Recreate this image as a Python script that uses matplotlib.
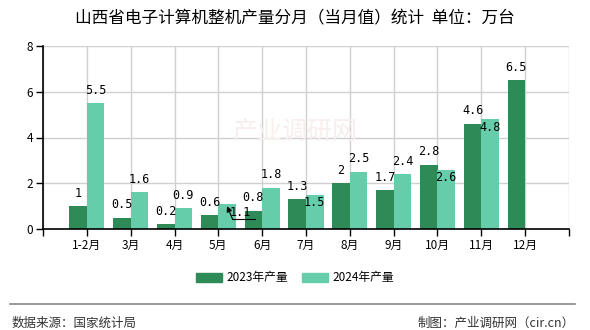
import numpy as np
import matplotlib.pyplot as plt
from matplotlib.patches import Patch

plt.rcParams['font.family'] = ['Noto Sans CJK SC', 'DejaVu Sans']

months = ['1-2月', '3月', '4月', '5月', '6月', '7月', '8月', '9月', '10月', '11月', '12月']
prod_2023 = [1, 0.5, 0.2, 0.6, 0.8, 1.3, 2, 1.7, 2.8, 4.6, 6.5]
prod_2024 = [5.5, 1.6, 0.9, 1.1, 1.8, 1.5, 2.5, 2.4, 2.6, 4.8, None]

# label offsets in pixels (dx, dy) where labels were pushed around to avoid overlap
lab_off_2024 = {3: (13, -9), 5: (0, -8), 8: (0, -8), 9: (0, -8)}

c23 = '#2e8b57'
c24 = '#66cdaa'

fig = plt.figure(figsize=(5.9, 3.3), dpi=100)
ax = fig.add_axes([43/590, 1-229/330, 526/590, 183/330])

x = np.arange(1, len(months)+1)
w = 0.4
ax.bar(x - w/2, prod_2023, width=w, color=c23, zorder=3)
x24 = [xi for xi, v in zip(x, prod_2024) if v is not None]
v24 = [v for v in prod_2024 if v is not None]
ax.bar(np.array(x24) + w/2, v24, width=w, color=c24, zorder=3)

lab_font = dict(family='DejaVu Sans Mono', fontsize=8.5, color='black')
for xi, v in zip(x, prod_2023):
    ax.annotate(f'{v:g}', (xi - w/2, v), xytext=(0, 13), textcoords='offset pixels',
                ha='center', va='center', zorder=5, **lab_font)
for i, (xi, v) in enumerate(zip(x24, v24)):
    dx, dy = lab_off_2024.get(i, (0, 13))
    ax.annotate(f'{v:g}', (xi + w/2, v), xytext=(dx, dy),
                textcoords='offset pixels', ha='center', va='center', zorder=5, **lab_font)
    if i == 3:
        # leader line from the shifted label back to its bar
        bx = xi + w/2
        ax.annotate('', (bx, v - 0.1), xytext=(bx + 0.12, v - 0.65),
                    arrowprops=dict(arrowstyle='-|>', color='black', lw=0.8,
                                    shrinkA=0, shrinkB=0, mutation_scale=8), zorder=5)
        ax.plot([bx + 0.12, bx + 0.64], [v - 0.65, v - 0.65], color='black', lw=0.8, zorder=5)

ax.set_xlim(0, 12)
ax.set_ylim(0, 8)
ax.set_xticks(np.arange(0, 13))
ax.set_xticklabels([''] + months + [''], fontsize=8.5)
ax.set_yticks([0, 2, 4, 6, 8])
ax.tick_params(axis='y', labelsize=8.5, length=5, width=1, pad=2)
ax.tick_params(axis='x', length=5, width=1, pad=2)
ax.grid(True, color='#d0d0d0', lw=1, zorder=0)
ax.spines['top'].set_visible(False)
ax.spines['right'].set_visible(False)
for s in ['left', 'bottom']:
    ax.spines[s].set_color('black')
    ax.spines[s].set_linewidth(1.2)
    ax.spines[s].set_zorder(4)

# faint watermark
fig.text(0.5, 0.6, '产业调研网', fontsize=18, color='#f8eeee', ha='center', va='center', zorder=0)

fig.text(0.5, 1-19/330, '山西省电子计算机整机产量分月（当月值）统计  单位：万台',
         ha='center', va='center', fontsize=12)

handles = [Patch(color=c23, label='2023年产量'), Patch(color=c24, label='2024年产量')]
fig.legend(handles=handles, loc='center', bbox_to_anchor=(0.5, 1-278/330), ncol=2,
           frameon=False, fontsize=8.5, handlelength=2.2, handleheight=0.9,
           columnspacing=1.2, handletextpad=0.4)

fig.add_artist(plt.Line2D([10/590, 575/590], [1-303.5/330]*2, color='#888888', lw=1.2))
fig.text(12/590, 1-323/330, '数据来源：国家统计局', fontsize=9, color='#333333', va='center')
fig.text(575/590, 1-323/330, '制图：产业调研网（cir.cn）', fontsize=9, color='#333333',
         va='center', ha='right')

fig.savefig('out.png', dpi=100)
